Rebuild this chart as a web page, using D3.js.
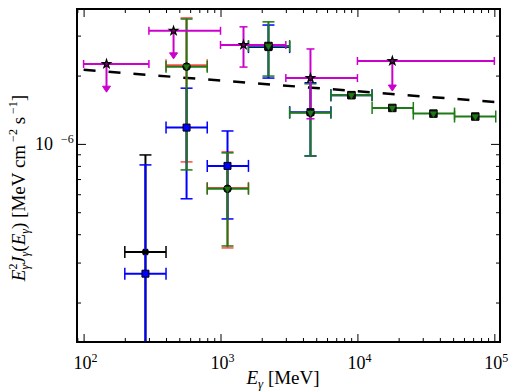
<!DOCTYPE html>
<html><head><meta charset="utf-8">
<script src="https://cdn.jsdelivr.net/npm/d3@7"></script>
<style>body{margin:0;background:#fff} text{font-family:"Liberation Serif","DejaVu Serif",serif;fill:#000}</style>
</head><body><svg id="c" width="510" height="392"></svg>
<script>
// ---------- data ----------
// magenta stars (upper limits / measurements)
const magX    = [147, 454, 1472, 4540, 17990];
const magXlo  = [100, 300, 1000, 3000, 10000];
const magXhi  = [300, 1000, 3000, 10000, 100000];
const magY    = [2.25e-6, 3.15e-6, 2.73e-6, 1.95e-6, 2.32e-6];
const magYlo  = [null, null, 2.18e-6, 1.29e-6, null];
const magYhi  = [null, null, 3.28e-6, 2.62e-6, null];
const magUL   = [1.69e-6, 2.37e-6, null, null, 1.71e-6]; // arrow tips

// blue squares
const blueX   = [283, 565, 1125, 2240, 4540, 9040];
const blueXlo = [200, 400, 800, 1600, 3200, 6400];
const blueXhi = [400, 800, 1600, 3200, 6400, 12800];
const blueY   = [2.68e-7, 1.18e-6, 8.0e-7, 2.67e-6, 1.38e-6, 1.64e-6];
const blueYlo = [1.0e-7, 5.73e-7, 4.67e-7, 1.95e-6, 8.85e-7, 1.64e-6];
const blueYhi = [8.08e-7, 1.76e-6, 1.14e-6, 3.34e-6, 1.86e-6, 1.64e-6];

// green down-triangles
const greenX   = [565, 1125, 2240, 4540, 9040, 17990, 35900, 72600];
const greenXlo = [400, 800, 1600, 3200, 6400, 12800, 25600, 51200];
const greenXhi = [800, 1600, 3200, 6400, 12800, 25600, 51200, 102400];
const greenY   = [2.19e-6, 6.34e-7, 2.70e-6, 1.37e-6, 1.64e-6, 1.44e-6, 1.36e-6, 1.32e-6];
const greenYlo = [7.68e-7, 3.55e-7, 1.99e-6, 8.85e-7, 1.64e-6, 1.44e-6, 1.36e-6, 1.32e-6];
const greenYhi = [3.55e-6, 9.13e-7, 3.45e-6, 1.84e-6, 1.64e-6, 1.44e-6, 1.36e-6, 1.32e-6];

// red (under green)
const redX   = [565, 1125];
const redXlo = [400, 800];
const redXhi = [800, 1600];
const redY   = [2.22e-6, 6.40e-7];
const redYlo = [8.33e-7, 3.48e-7];
const redYhi = [3.59e-6, 9.22e-7];

// black cross
const crossX = [283], crossXlo = [200], crossXhi = [400];
const crossY = [3.34e-7], crossYlo = [1.0e-7], crossYhi = [8.94e-7];

// black circles and black squares (overlaid markers)
const circX = [565, 1125, 4540];
const circY = [2.19e-6, 6.34e-7, 1.37e-6];
const sqX   = [2240, 9040, 17990, 35900, 72600];
const sqY   = [2.70e-6, 1.64e-6, 1.44e-6, 1.36e-6, 1.32e-6];

// dashed power-law line
const lineX = [100, 100000];
const lineY = [2.12e-6, 1.53e-6];

// tick labels
const xMajor = [1e2, 1e3, 1e4, 1e5];
const xExp   = ["2", "3", "4", "5"];
const yMajor = [1e-6];
const yExp   = ["\u22126"];

// ---------- drawing ----------
const FONT = "'Liberation Serif', 'Times New Roman', 'DejaVu Serif', serif";
const L = 77, R = 500, T = 9, B = 342;
const svg = d3.select("#c");
const x = d3.scaleLog().domain([89.5, 1.1e5]).range([L, R]);
const y = d3.scaleLog().domain([1.34e-7, 3.93e-6]).range([B, T]);

const MAG = "#cc00cc", BLUE = "#0000ff", GREEN = "#1e7a14", RED = "#ff4a4a";

svg.append("defs").append("clipPath").attr("id", "clip")
  .append("rect").attr("x", L).attr("y", T).attr("width", R - L).attr("height", B - T);
const plot = svg.append("g").attr("clip-path", "url(#clip)");

// dashed line
plot.append("path")
  .attr("d", d3.line().x((d, i) => x(lineX[i])).y((d, i) => y(lineY[i]))(lineX))
  .attr("fill", "none").attr("stroke", "#000").attr("stroke-width", 2.5)
  .attr("stroke-dasharray", "12,13");

function errBars(X, Xlo, Xhi, Y, Ylo, Yhi, color, cap, lw) {
  const g = plot.append("g").attr("stroke", color).attr("stroke-width", lw).attr("fill", "none");
  X.forEach((xv, i) => {
    const cx = x(xv), cy = y(Y[i]);
    const x0 = x(Xlo[i]), x1 = x(Xhi[i]);
    g.append("line").attr("x1", x0).attr("x2", x1).attr("y1", cy).attr("y2", cy);
    [x0, x1].forEach(xx => g.append("line").attr("x1", xx).attr("x2", xx)
      .attr("y1", cy - cap / 2).attr("y2", cy + cap / 2).attr("stroke-width", 1.5));
    if (Ylo && Ylo[i] != null && Yhi[i] != null && Ylo[i] !== Yhi[i]) {
      const y0 = y(Ylo[i]), y1 = y(Yhi[i]);
      g.append("line").attr("x1", cx).attr("x2", cx).attr("y1", y0).attr("y2", y1);
      [y0, y1].forEach(yy => g.append("line").attr("x1", cx - cap / 2).attr("x2", cx + cap / 2)
        .attr("y1", yy).attr("y2", yy).attr("stroke-width", 1.5));
    }
  });
}

errBars(crossX, crossXlo, crossXhi, crossY, crossYlo, crossYhi, "#000", 12, 2);
errBars(redX, redXlo, redXhi, redY, redYlo, redYhi, RED, 12, 2);
errBars(blueX, blueXlo, blueXhi, blueY, blueYlo, blueYhi, BLUE, 12, 2);
errBars(greenX, greenXlo, greenXhi, greenY, greenYlo, greenYhi, GREEN, 12, 2);
errBars(magX, magXlo, magXhi, magY, magYlo, magYhi, MAG, 8, 2);

// magenta upper-limit arrows
magX.forEach((xv, i) => {
  if (magUL[i] == null) return;
  const cx = x(xv), y0 = y(magY[i]), y1 = y(magUL[i]);
  plot.append("line").attr("x1", cx).attr("x2", cx).attr("y1", y0).attr("y2", y1 - 5)
    .attr("stroke", MAG).attr("stroke-width", 2);
  plot.append("path").attr("d", `M${cx - 4},${y1 - 6}L${cx + 4},${y1 - 6}L${cx},${y1}Z`)
    .attr("fill", MAG).attr("stroke", MAG).attr("stroke-width", 1);
});

// markers
const sym = d3.symbol();
const mk = plot.append("g");
blueX.forEach((xv, i) => mk.append("path")
  .attr("transform", `translate(${x(xv)},${y(blueY[i])})`)
  .attr("d", sym.type(d3.symbolSquare).size(49)())
  .attr("fill", BLUE).attr("stroke", "#000").attr("stroke-width", 1));
sqX.forEach((xv, i) => mk.append("path")
  .attr("transform", `translate(${x(xv)},${y(sqY[i])})`)
  .attr("d", sym.type(d3.symbolSquare).size(56)())
  .attr("fill", "#111").attr("stroke", "#000").attr("stroke-width", 1));
circX.forEach((xv, i) => mk.append("circle")
  .attr("cx", x(xv)).attr("cy", y(circY[i])).attr("r", 3.8)
  .attr("fill", "#111").attr("stroke", "#000").attr("stroke-width", 1));
greenX.forEach((xv, i) => mk.append("path")
  .attr("transform", `translate(${x(xv)},${y(greenY[i])}) rotate(180)`)
  .attr("d", sym.type(d3.symbolTriangle).size(18)())
  .attr("fill", GREEN).attr("stroke", GREEN).attr("stroke-width", 0.5));
crossX.forEach((xv, i) => mk.append("path")
  .attr("transform", `translate(${x(xv)},${y(crossY[i])}) rotate(45)`)
  .attr("d", sym.type(d3.symbolCross).size(30)())
  .attr("fill", "#000"));
magX.forEach((xv, i) => mk.append("path")
  .attr("transform", `translate(${x(xv)},${y(magY[i])})`)
  .attr("d", sym.type(d3.symbolStar).size(22)())
  .attr("fill", "#7a007a").attr("stroke", "#000").attr("stroke-width", 1.2));

// ---------- axes ----------
const xAll = x.ticks().filter(v => v >= 89.5 && v <= 1.1e5);
const yAll = y.ticks().filter(v => v >= 1.34e-7 && v <= 3.93e-6);
const isMajor = v => Math.abs(Math.log10(v) - Math.round(Math.log10(v))) < 1e-6;
const xMin = xAll.filter(v => !isMajor(v)), yMin = yAll.filter(v => !isMajor(v));

function ticks(axisFn, scale, vals, size, tr) {
  svg.append("g").attr("transform", tr)
    .call(axisFn(scale).tickValues(vals).tickSize(-size).tickFormat(""))
    .call(g => { g.select(".domain").remove(); g.selectAll("line").attr("stroke", "#000").attr("stroke-width", 1); });
}
ticks(d3.axisBottom, x, xMin, 4, `translate(0,${B})`);
ticks(d3.axisBottom, x, xMajor, 8, `translate(0,${B})`);
ticks(d3.axisTop, x, xMin, 4, `translate(0,${T})`);
ticks(d3.axisTop, x, xMajor, 8, `translate(0,${T})`);
ticks(d3.axisLeft, y, yMin, 4, `translate(${L},0)`);
ticks(d3.axisLeft, y, yMajor, 9, `translate(${L},0)`);
ticks(d3.axisRight, y, yMin, 4, `translate(${R},0)`);
ticks(d3.axisRight, y, yMajor, 9, `translate(${R},0)`);

svg.append("rect").attr("x", L).attr("y", T).attr("width", R - L).attr("height", B - T)
  .attr("fill", "none").attr("stroke", "#000").attr("stroke-width", 2);

// tick labels
xMajor.forEach((v, i) => {
  const t = svg.append("text").attr("x", x(v) + 2).attr("y", 369).attr("text-anchor", "middle")
    .attr("font-family", FONT).attr("font-size", 18);
  t.append("tspan").text("10");
  t.append("tspan").attr("font-size", 12).attr("dy", -7).text(xExp[i]);
});
yMajor.forEach((v, i) => {
  const t = svg.append("text").attr("x", 35).attr("y", y(v) + 6).attr("font-family", FONT).attr("font-size", 18);
  t.append("tspan").text("10");
  t.append("tspan").attr("font-size", 12).attr("dy", -7).attr("dx", 8).text(yExp[i]);
});

// axis titles
const xt = svg.append("text").attr("x", 283).attr("y", 384).attr("text-anchor", "middle")
  .attr("font-family", FONT).attr("font-size", 19);
xt.append("tspan").attr("font-style", "italic").text("E");
xt.append("tspan").attr("font-style", "italic").attr("font-size", 13).attr("dy", 4).text("\u03b3");
xt.append("tspan").attr("dy", -4).text(" [MeV]");

const yt = svg.append("text").attr("transform", "translate(25,188) rotate(-90)")
  .attr("text-anchor", "middle").attr("font-family", FONT).attr("font-size", 19);
yt.append("tspan").attr("font-style", "italic").text("E");
yt.append("tspan").attr("font-size", 12).attr("dy", -8).text("2");
yt.append("tspan").attr("font-style", "italic").attr("font-size", 12).attr("dx", -6).attr("dy", 12).text("\u03b3");
yt.append("tspan").attr("font-style", "italic").attr("dy", -4).text("J");
yt.append("tspan").attr("font-style", "italic").attr("font-size", 12).attr("dy", 4).text("\u03b3");
yt.append("tspan").attr("dy", -4).text("(");
yt.append("tspan").attr("font-style", "italic").text("E");
yt.append("tspan").attr("font-style", "italic").attr("font-size", 12).attr("dy", 4).text("\u03b3");
yt.append("tspan").attr("dy", -4).text(") [MeV cm");
yt.append("tspan").attr("font-size", 12).attr("dy", -8).text(" \u22122");
yt.append("tspan").attr("dy", 8).text(" s");
yt.append("tspan").attr("font-size", 12).attr("dy", -8).text(" \u22121");
yt.append("tspan").attr("dy", 8).text("]");
</script></body></html>
